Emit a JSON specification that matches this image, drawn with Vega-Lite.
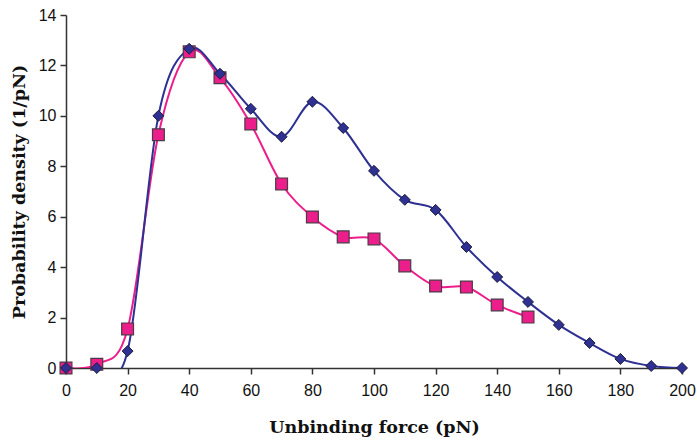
{
  "$schema": "https://vega.github.io/schema/vega-lite/v6.json",
  "autosize": "none",
  "width": 616,
  "height": 353,
  "padding": {"left": 66, "top": 15, "right": 15, "bottom": 76},
  "background": "white",
  "config": {"view": {"stroke": null}},
  "data": {"values": [
    {"force": 0, "density": 0, "series": "Blue"},
    {"force": 10, "density": 0, "series": "Blue"},
    {"force": 20, "density": 0.67, "series": "Blue"},
    {"force": 30, "density": 10.0, "series": "Blue"},
    {"force": 40, "density": 12.66, "series": "Blue"},
    {"force": 50, "density": 11.67, "series": "Blue"},
    {"force": 60, "density": 10.28, "series": "Blue"},
    {"force": 70, "density": 9.17, "series": "Blue"},
    {"force": 80, "density": 10.56, "series": "Blue"},
    {"force": 90, "density": 9.52, "series": "Blue"},
    {"force": 100, "density": 7.82, "series": "Blue"},
    {"force": 110, "density": 6.67, "series": "Blue"},
    {"force": 120, "density": 6.27, "series": "Blue"},
    {"force": 130, "density": 4.8, "series": "Blue"},
    {"force": 140, "density": 3.61, "series": "Blue"},
    {"force": 150, "density": 2.62, "series": "Blue"},
    {"force": 160, "density": 1.71, "series": "Blue"},
    {"force": 170, "density": 0.99, "series": "Blue"},
    {"force": 180, "density": 0.36, "series": "Blue"},
    {"force": 190, "density": 0.08, "series": "Blue"},
    {"force": 200, "density": 0, "series": "Blue"},
    {"force": 0, "density": 0, "series": "Magenta"},
    {"force": 10, "density": 0.15, "series": "Magenta"},
    {"force": 20, "density": 1.55, "series": "Magenta"},
    {"force": 30, "density": 9.25, "series": "Magenta"},
    {"force": 40, "density": 12.54, "series": "Magenta"},
    {"force": 50, "density": 11.51, "series": "Magenta"},
    {"force": 60, "density": 9.68, "series": "Magenta"},
    {"force": 70, "density": 7.3, "series": "Magenta"},
    {"force": 80, "density": 5.99, "series": "Magenta"},
    {"force": 90, "density": 5.2, "series": "Magenta"},
    {"force": 100, "density": 5.12, "series": "Magenta"},
    {"force": 110, "density": 4.05, "series": "Magenta"},
    {"force": 120, "density": 3.25, "series": "Magenta"},
    {"force": 130, "density": 3.21, "series": "Magenta"},
    {"force": 140, "density": 2.5, "series": "Magenta"},
    {"force": 150, "density": 2.02, "series": "Magenta"}
  ]},
  "encoding": {
    "x": {
      "field": "force", "type": "quantitative",
      "scale": {"domain": [0, 200], "nice": false},
      "axis": {
        "title": "Unbinding force (pN)", "values": [0,20,40,60,80,100,120,140,160,180,200],
        "grid": false, "domainColor": "#333333", "domainWidth": 1.5,
        "tickColor": "#333333", "tickSize": 6, "tickWidth": 1.5,
        "labelFlush": false, "labelOverlap": false,
        "labelFont": "Liberation Sans", "labelFontSize": 16, "labelColor": "#111111", "labelPadding": 8,
        "titleFont": "DejaVu Serif", "titleFontSize": 17.5, "titleFontWeight": "bold", "titleColor": "#111111", "titlePadding": 20
      }
    },
    "y": {
      "field": "density", "type": "quantitative",
      "scale": {"domain": [0, 14], "nice": false},
      "axis": {
        "title": "Probability density (1/pN)", "values": [0,2,4,6,8,10,12,14],
        "grid": false, "domainColor": "#333333", "domainWidth": 1.5,
        "tickColor": "#333333", "tickSize": 6, "tickWidth": 1.5,
        "labelFlush": false, "labelOverlap": false,
        "labelFont": "Liberation Sans", "labelFontSize": 16, "labelColor": "#111111", "labelPadding": 4,
        "titleFont": "DejaVu Serif", "titleFontSize": 17.5, "titleFontWeight": "bold", "titleColor": "#111111", "titlePadding": 10
      }
    }
  },
  "layer": [
    {
      "transform": [{"filter": "datum.series == 'Magenta'"}],
      "mark": {"type": "line", "interpolate": "cardinal", "tension": 0, "clip": true, "color": "#ec1e8c", "strokeWidth": 2}
    },
    {
      "transform": [{"filter": "datum.series == 'Blue'"}],
      "mark": {"type": "line", "interpolate": "cardinal", "tension": 0, "clip": true, "color": "#2e3192", "strokeWidth": 2}
    },
    {
      "transform": [{"filter": "datum.series == 'Magenta'"}],
      "mark": {"type": "point", "shape": "square", "filled": true, "size": 140, "fill": "#ec1e8c", "stroke": "#4a3a44", "strokeWidth": 1.2, "opacity": 1}
    },
    {
      "transform": [{"filter": "datum.series == 'Blue'"}],
      "mark": {"type": "point", "shape": "diamond", "filled": true, "size": 120, "fill": "#2e3192", "stroke": "#1c1c3c", "strokeWidth": 1, "opacity": 1}
    }
  ]
}
